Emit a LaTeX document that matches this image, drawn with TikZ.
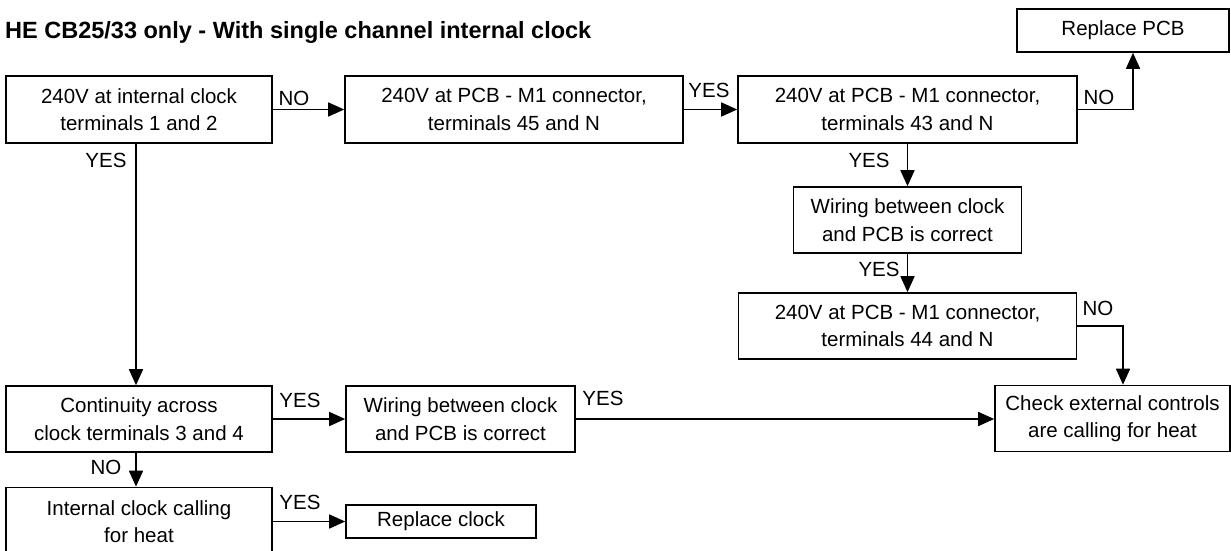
\documentclass[tikz,border=0pt]{standalone}
\usepackage{fontspec}
\setmainfont{Liberation Sans}
\usetikzlibrary{arrows.meta}
\tikzset{
  box/.style={draw, line width=1.6pt, inner sep=0pt, align=center,
    font=\fontsize{20.5}{27.5}\selectfont},
  lbl/.style={inner sep=0pt, font=\fontsize{20.5}{24}\selectfont},
  arr/.style={line width=1.6pt, -{Triangle[length=16pt,width=14pt]}},
}
\begin{document}
\begin{tikzpicture}[x=1pt,y=-1pt]
        \useasboundingbox (0,0) rectangle (1231,551);

        % Title
        \node[anchor=base west, inner sep=0pt, font=\fontsize{23.5}{28}\selectfont\bfseries] (title) at (5,38.5)
            {HE CB25/33 only - With single channel internal clock};

        % Top row
        \node[box, minimum width=266pt, minimum height=67pt] (clk12) at (139,109.5) {240V at internal clock\\terminals 1 and 2};
        \node[box, minimum width=338pt, minimum height=67pt] (pcb45) at (514,109.5) {240V at PCB - M1 connector,\\terminals 45 and N};
        \node[box, minimum width=339pt, minimum height=67pt] (pcb43) at (907.5,109.5) {240V at PCB - M1 connector,\\terminals 43 and N};
        \node[box, minimum width=212pt, minimum height=43pt] (newpcb) at (1123,30.5) {Replace PCB};

        % Right column
        \node[box, minimum width=228pt, minimum height=66pt] (wireR) at (907.5,220) {Wiring between clock\\and PCB is correct};
        \node[box, minimum width=338pt, minimum height=66pt] (pcb44) at (907.5,326) {240V at PCB - M1 connector,\\terminals 44 and N};
        \node[box, minimum width=235pt, minimum height=66pt] (extctl) at (1112.5,418.5) {Check external controls\\are calling for heat};

        % Bottom rows
        \node[box, minimum width=266pt, minimum height=66pt] (clk34) at (139,419) {Continuity across\\clock terminals 3 and 4};
        \node[box, minimum width=229pt, minimum height=66pt] (wireL) at (460.5,419) {Wiring between clock\\and PCB is correct};
        \node[box, minimum width=266pt, minimum height=68pt] (heat) at (139,521.5) {Internal clock calling\\for heat};
        \node[box, minimum width=190pt, minimum height=33pt] (newclk) at (441,521.5) {Replace clock};

        % Connectors
        \draw[arr] (clk12) -- (pcb45);
        \draw[arr] (pcb45) -- (pcb43);
        \draw[arr] (pcb43.east) -| ([xshift=10pt]newpcb.south);
        \draw[arr] (pcb43) -- (wireR);
        \draw[arr] (wireR) -- (pcb44);
        \draw[arr] (pcb44.east) -| ([xshift=10.5pt]extctl.north);
        \draw[arr] ([xshift=-3pt]clk12.south) -- ([xshift=-3pt]clk34.north);
        \draw[arr] (clk34) -- (wireL);
        \draw[arr] (wireL.east) -- (wireL.east -| extctl.west);
        \draw[arr] ([xshift=-3pt]clk34.south) -- ([xshift=-3pt]heat.north);
        \draw[arr] (heat.east) -- (heat.east -| newclk.west);

        % Answers
        \node[lbl] (no1) at (294,98) {NO};
        \node[lbl] (yes1) at (106,160) {YES};
        \node[lbl] (yes2) at (709,90) {YES};
        \node[lbl] (no2) at (1099,97) {NO};
        \node[lbl] (yes3) at (869,160) {YES};
        \node[lbl] (yes4) at (879,269) {YES};
        \node[lbl] (no3) at (1098,308) {NO};
        \node[lbl] (yes5) at (300,400) {YES};
        \node[lbl] (yes6) at (603,398) {YES};
        \node[lbl] (no4) at (106,467) {NO};
        \node[lbl] (yes7) at (300,502) {YES};
\end{tikzpicture}
\end{document}
